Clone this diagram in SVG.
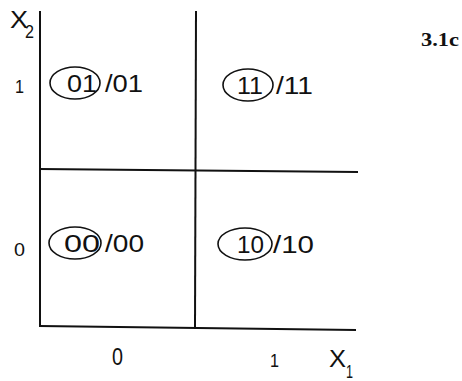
<svg xmlns="http://www.w3.org/2000/svg" width="462" height="381" viewBox="0 0 462 381">
<style>
.ln{stroke:#111;stroke-width:2;fill:none;stroke-linecap:square}
.el{stroke:#111;stroke-width:1.6;fill:none}
.t{font-family:"Liberation Sans",Arial,sans-serif;font-size:23px;fill:#111}
.s{font-family:"Liberation Sans",Arial,sans-serif;font-size:19px;fill:#111}
.b{font-family:"Liberation Serif","Times New Roman",serif;font-size:18px;font-weight:bold;fill:#111}
</style>
<rect width="462" height="381" fill="#fff"/>
<g id="grid">
<line class="ln" x1="40" y1="12" x2="40" y2="326"/>
<line class="ln" x1="196" y1="12" x2="195" y2="328"/>
<line class="ln" x1="40" y1="169" x2="357" y2="172"/>
<line class="ln" x1="40" y1="326" x2="355" y2="330"/>
</g>
<g id="axes">
<text class="t" x="10" y="28" textLength="18" lengthAdjust="spacingAndGlyphs">X</text><text class="s" x="25" y="38" textLength="9" lengthAdjust="spacingAndGlyphs">2</text>
<text class="t" x="329" y="367" textLength="17" lengthAdjust="spacingAndGlyphs">X</text><text class="s" x="346" y="378" textLength="7" lengthAdjust="spacingAndGlyphs">1</text>
<text class="s" x="15" y="93" textLength="9" lengthAdjust="spacingAndGlyphs">1</text>
<text class="s" x="14" y="256" textLength="11" lengthAdjust="spacingAndGlyphs">0</text>
<text class="s" x="112" y="365" textLength="11" lengthAdjust="spacingAndGlyphs" style="font-size:23px">0</text>
<text class="s" x="270" y="367" textLength="9" lengthAdjust="spacingAndGlyphs">1</text>
</g>
<g id="s01">
<ellipse class="el" cx="75" cy="83" rx="25" ry="16"/>
<text class="t" x="67" y="92" textLength="30" lengthAdjust="spacingAndGlyphs">01</text>
<text class="t" x="105" y="92" textLength="38" lengthAdjust="spacingAndGlyphs">/01</text>
</g>
<g id="s11">
<ellipse class="el" cx="248" cy="85" rx="25" ry="16"/>
<text class="t" x="237" y="94" textLength="26" lengthAdjust="spacingAndGlyphs">11</text>
<text class="t" x="276" y="94" textLength="37" lengthAdjust="spacingAndGlyphs">/11</text>
</g>
<g id="s00">
<ellipse class="el" cx="75" cy="243" rx="26" ry="16"/>
<text class="t" x="64" y="252" textLength="36" lengthAdjust="spacingAndGlyphs">00</text>
<text class="t" x="105" y="252" textLength="39" lengthAdjust="spacingAndGlyphs">/00</text>
</g>
<g id="s10">
<ellipse class="el" cx="245" cy="244" rx="27" ry="16"/>
<text class="t" x="237" y="253" textLength="27" lengthAdjust="spacingAndGlyphs">10</text>
<text class="t" x="273" y="253" textLength="41" lengthAdjust="spacingAndGlyphs">/10</text>
</g>
<text class="b" x="421" y="46" textLength="38" lengthAdjust="spacingAndGlyphs">3.1c</text>
</svg>
